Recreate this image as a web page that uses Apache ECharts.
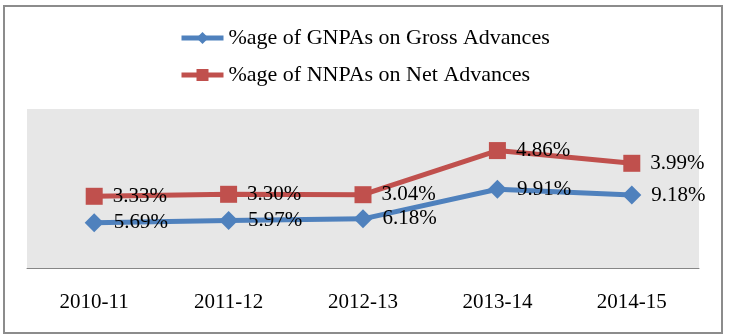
<!DOCTYPE html>
<html>
<head>
<meta charset="utf-8">
<style>
    html, body { margin: 0; padding: 0; background: #fff; }
    #chart { width: 729px; height: 336px; }
</style>
<script src="https://cdn.jsdelivr.net/npm/echarts@6/dist/echarts.min.js"></script>
</head>
<body>
<div id="chart"></div>
<script>
// years on the x axis
var years = ['2010-11', '2011-12', '2012-13', '2013-14', '2014-15'];
// %age of GNPAs on Gross Advances
var gnpa = [5.69, 5.97, 6.18, 9.91, 9.18];
// %age of NNPAs on Net Advances (stacked on top of gnpa in the original)
var nnpa = [3.33, 3.30, 3.04, 4.86, 3.99];

var FONT = "'Liberation Serif', 'Times New Roman', serif";
var BLUE = '#4f81bd',
    RED = '#c0504d';

var myChart = echarts.init(document.getElementById('chart'));

function pctLabel(p) {
    return Number(p.value).toFixed(2) + '%';
}

var option = {
    animation: false,
    backgroundColor: '#fff',
    graphic: [{
        type: 'rect',
        shape: { x: 4, y: 6, width: 718, height: 327 },
        style: { fill: 'none', stroke: '#8c8c8c', lineWidth: 2 },
        silent: true
    }],
    legend: {
        orient: 'vertical',
        left: 174,
        top: 22,
        itemGap: 15,
        itemWidth: 42,
        itemHeight: 15,
        lineStyle: { width: 5 },
        textStyle: { fontFamily: FONT, fontSize: 22, color: '#000' },
        data: ['%age of GNPAs on Gross Advances', '%age of NNPAs on Net Advances']
    },
    grid: {
        left: 27,
        right: 30,
        top: 109,
        bottom: 68,
        show: true,
        backgroundColor: '#e7e7e7',
        borderWidth: 0
    },
    xAxis: {
        type: 'category',
        data: years,
        boundaryGap: true,
        axisLine: { lineStyle: { color: '#868686', width: 1 } },
        axisTick: { show: false },
        axisLabel: { fontFamily: FONT, fontSize: 21, color: '#000', margin: 24 }
    },
    yAxis: {
        type: 'value',
        min: 0,
        max: 20,
        show: false,
        splitLine: { show: false }
    },
    series: [{
        name: '%age of GNPAs on Gross Advances',
        type: 'line',
        stack: 'npa',
        data: gnpa,
        symbol: 'diamond',
        symbolSize: 19,
        lineStyle: { color: BLUE, width: 5 },
        itemStyle: { color: BLUE },
        label: {
            show: true,
            position: 'right',
            distance: 10,
            formatter: pctLabel,
            fontFamily: FONT,
            fontSize: 21,
            color: '#000'
        }
    }, {
        name: '%age of NNPAs on Net Advances',
        type: 'line',
        stack: 'npa',
        data: nnpa,
        symbol: 'rect',
        symbolSize: 17,
        lineStyle: { color: RED, width: 5 },
        itemStyle: { color: RED },
        label: {
            show: true,
            position: 'right',
            distance: 10,
            formatter: pctLabel,
            fontFamily: FONT,
            fontSize: 21,
            color: '#000'
        }
    }]
};

myChart.setOption(option);
</script>
</body>
</html>
